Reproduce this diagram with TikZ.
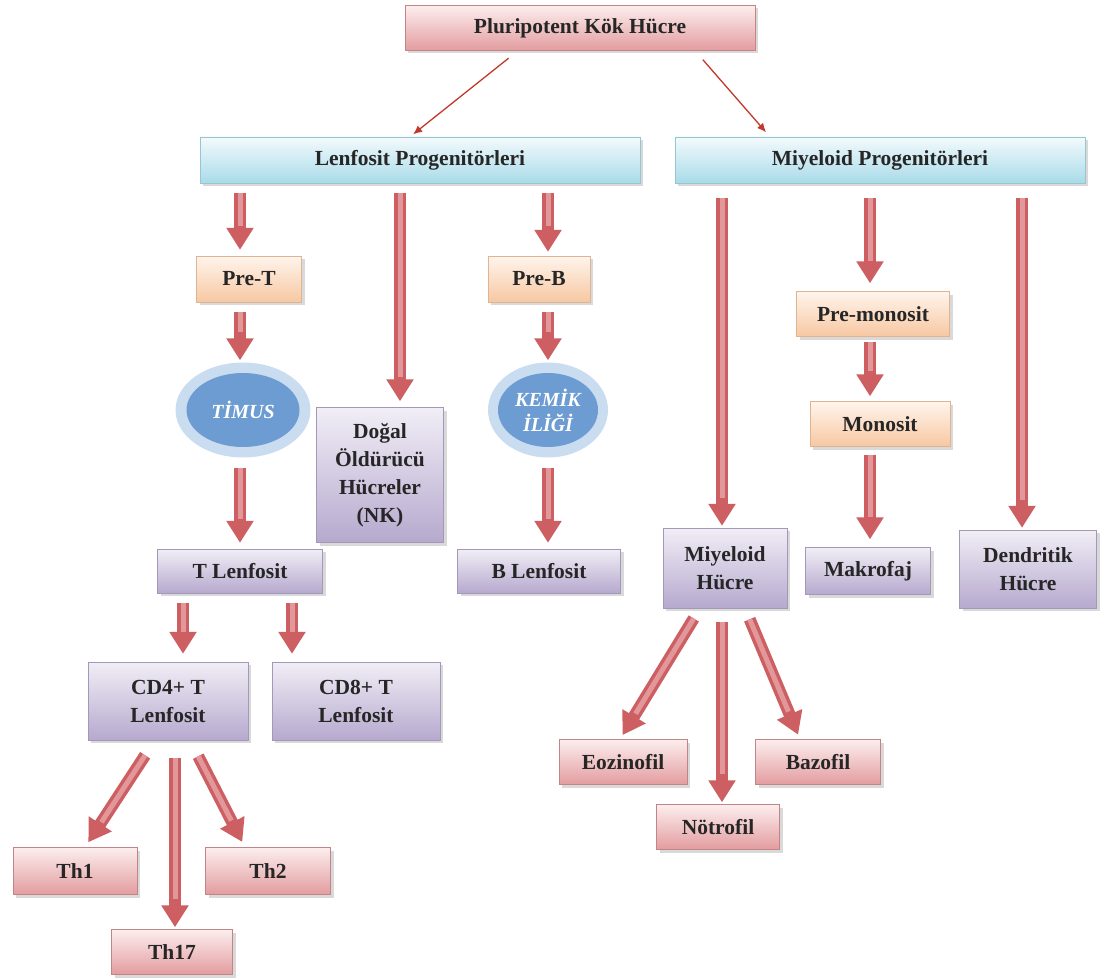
\documentclass[tikz,border=0pt]{standalone}
\usepackage{fontspec}
\setmainfont{Liberation Serif}
\usepackage{tikz}
\usetikzlibrary{arrows.meta}
\usetikzlibrary{shapes.geometric}
\usetikzlibrary{shadows}

\definecolor{pinkdark}{HTML}{E39C9F}
\definecolor{pinklight}{HTML}{FCEEEE}
\definecolor{bluedark}{HTML}{A9DBE9}
\definecolor{bluelight}{HTML}{F3FAFC}
\definecolor{peachdark}{HTML}{F7C8A2}
\definecolor{peachlight}{HTML}{FFF4EC}
\definecolor{lilacdark}{HTML}{B6A9CE}
\definecolor{lilaclight}{HTML}{F1EEF6}
\definecolor{ringblue}{HTML}{C9DCF0}
\definecolor{coreblue}{HTML}{6C9CD2}
\definecolor{arrowdark}{HTML}{CD5F62}
\definecolor{arrowlight}{HTML}{E2979A}
\definecolor{thinred}{HTML}{C0392B}

\tikzset{
    cellbox/.style={rectangle, align=center, inner sep=2pt, text=black!85,
        font=\fontsize{21.5}{28}\selectfont\bfseries,
        drop shadow={opacity=0.3, shadow xshift=3pt, shadow yshift=-3pt}},
    pinkbox/.style={cellbox, top color=pinklight, bottom color=pinkdark, draw=pinkdark!85!black},
    bluebox/.style={cellbox, top color=bluelight, bottom color=bluedark, draw=bluedark!90!black},
    peachbox/.style={cellbox, top color=peachlight, bottom color=peachdark, draw=peachdark!90!black},
    lilacbox/.style={cellbox, top color=lilaclight, bottom color=lilacdark, draw=lilacdark!90!black},
    organring/.style={ellipse, fill=ringblue, inner sep=0pt},
    organcore/.style={ellipse, fill=coreblue, inner sep=0pt, align=center, text=white,
        font=\fontsize{20}{25}\selectfont\bfseries\itshape},
    bigarrow/.style={draw=arrowdark, line width=12pt, -{Triangle[length=22pt,width=26pt]},
        postaction={draw=arrowlight, line width=5pt, arrows=-, shorten >=30pt}},
    thinarrow/.style={draw=thinred, line width=1.3pt, -{Latex[length=9pt,width=8pt]}}
}

\begin{document}
\begin{tikzpicture}[x=1pt, y=-1pt]
    \useasboundingbox (0,0) rectangle (1100,979);

    % Stem cell and progenitors
    \node[pinkbox, minimum width=350, minimum height=45] (pluri) at (580,28) {Pluripotent Kök Hücre};
    \node[bluebox, minimum width=440, minimum height=46] (lenf) at (420,160) {Lenfosit Progenitörleri};
    \node[bluebox, minimum width=410, minimum height=46] (miye) at (880,160) {Miyeloid Progenitörleri};

    \draw[thinarrow, shorten <=12pt, shorten >=4pt] ([xshift=-62]pluri.south) -- ([xshift=-10]lenf.north);
    \draw[thinarrow, shorten <=12pt, shorten >=6pt] ([xshift=115]pluri.south) -- ([xshift=-110]miye.north);

    % Lymphoid branch
    \node[peachbox, minimum width=105, minimum height=46] (pret) at (249,279) {Pre-T};
    \node[peachbox, minimum width=102, minimum height=46] (preb) at (539,279) {Pre-B};
    \node[organring, minimum width=135, minimum height=95] (timus) at (243,410) {};
    \node[organcore, minimum width=113, minimum height=74] (timuscore) at (timus) {TİMUS};
    \node[organring, minimum width=120, minimum height=95] (kemik) at (548,410) {};
    \node[organcore, minimum width=100, minimum height=74] (kemikcore) at (kemik) {KEMİK\\İLİĞİ};
    \node[lilacbox, minimum width=127, minimum height=135] (nk) at (380,475) {Doğal\\Öldürücü\\Hücreler\\(NK)};
    \node[lilacbox, minimum width=165, minimum height=44] (tlen) at (240,571) {T Lenfosit};
    \node[lilacbox, minimum width=163, minimum height=44] (blen) at (539,571) {B Lenfosit};
    \node[lilacbox, minimum width=160, minimum height=78] (cd4) at (168,701) {CD4+ T\\Lenfosit};
    \node[lilacbox, minimum width=168, minimum height=78] (cd8) at (356,701) {CD8+ T\\Lenfosit};
    \node[pinkbox, minimum width=124, minimum height=47] (th1) at (75,871) {Th1};
    \node[pinkbox, minimum width=125, minimum height=47] (th2) at (268,871) {Th2};
    \node[pinkbox, minimum width=121, minimum height=45] (th17) at (172,952) {Th17};

    \draw[bigarrow, shorten <=10pt, shorten >=6pt] ([xshift=-180]lenf.south) -- ([xshift=-9]pret.north);
    \draw[bigarrow, shorten <=10pt, shorten >=6pt] ([xshift=-20]lenf.south) -- ([xshift=20]nk.north);
    \draw[bigarrow, shorten <=10pt, shorten >=4pt] ([xshift=128]lenf.south) -- ([xshift=9]preb.north);
    \draw[bigarrow, shorten <=10pt, shorten >=2pt] ([xshift=-9]pret.south) -- (timus.north -| {(240,0)});
    \draw[bigarrow, shorten <=10pt, shorten >=2pt] ([xshift=9]preb.south) -- (kemik.north);
    \draw[bigarrow, shorten <=10pt, shorten >=6pt] (timus.south -| {(240,0)}) -- (tlen.north);
    \draw[bigarrow, shorten <=10pt, shorten >=6pt] (kemik.south) -- ([xshift=9]blen.north);
    \draw[bigarrow, shorten <=10pt, shorten >=8pt] ([xshift=-57]tlen.south) -- ([xshift=15]cd4.north);
    \draw[bigarrow, shorten <=10pt, shorten >=8pt] ([xshift=52]tlen.south) -- ([xshift=-64]cd8.north);
    \draw[bigarrow, shorten <=18pt, shorten >=6pt] ([xshift=-13]cd4.south) -- ([xshift=10]th1.north);
    \draw[bigarrow, shorten <=18pt, shorten >=2pt] ([xshift=7]cd4.south) -- ([xshift=3]th17.north);
    \draw[bigarrow, shorten <=18pt, shorten >=6pt] ([xshift=22]cd4.south) -- ([xshift=-23]th2.north);

    % Myeloid branch
    \node[peachbox, minimum width=153, minimum height=45] (premono) at (873,314) {Pre-monosit};
    \node[peachbox, minimum width=140, minimum height=45] (mono) at (880,424) {Monosit};
    \node[lilacbox, minimum width=124, minimum height=80] (myh) at (725,568) {Miyeloid\\Hücre};
    \node[lilacbox, minimum width=125, minimum height=47] (makro) at (868,571) {Makrofaj};
    \node[lilacbox, minimum width=137, minimum height=78] (dend) at (1028,569) {Dendritik\\Hücre};
    \node[pinkbox, minimum width=128, minimum height=45] (eoz) at (623,762) {Eozinofil};
    \node[pinkbox, minimum width=125, minimum height=45] (baz) at (818,762) {Bazofil};
    \node[pinkbox, minimum width=123, minimum height=45] (notr) at (718,827) {Nötrofil};

    \draw[bigarrow, shorten <=15pt, shorten >=2pt] ([xshift=-158]miye.south) -- ([xshift=-3]myh.north);
    \draw[bigarrow, shorten <=15pt, shorten >=8pt] ([xshift=-10]miye.south) -- ([xshift=-3]premono.north);
    \draw[bigarrow, shorten <=15pt, shorten >=2pt] ([xshift=142]miye.south) -- ([xshift=-6]dend.north);
    \draw[bigarrow, shorten <=5pt, shorten >=5pt] ([xshift=-3]premono.south) -- ([xshift=-10]mono.north);
    \draw[bigarrow, shorten <=8pt, shorten >=8pt] ([xshift=-10]mono.south) -- ([xshift=2]makro.north);
    \draw[bigarrow, shorten <=12pt, shorten >=5pt] ([xshift=-25]myh.south) -- ([xshift=-3]eoz.north);
    \draw[bigarrow, shorten <=14pt, shorten >=2pt] ([xshift=-3]myh.south) -- ([xshift=4]notr.north);
    \draw[bigarrow, shorten <=12pt, shorten >=5pt] ([xshift=20]myh.south) -- ([xshift=-18]baz.north);
\end{tikzpicture}
\end{document}
